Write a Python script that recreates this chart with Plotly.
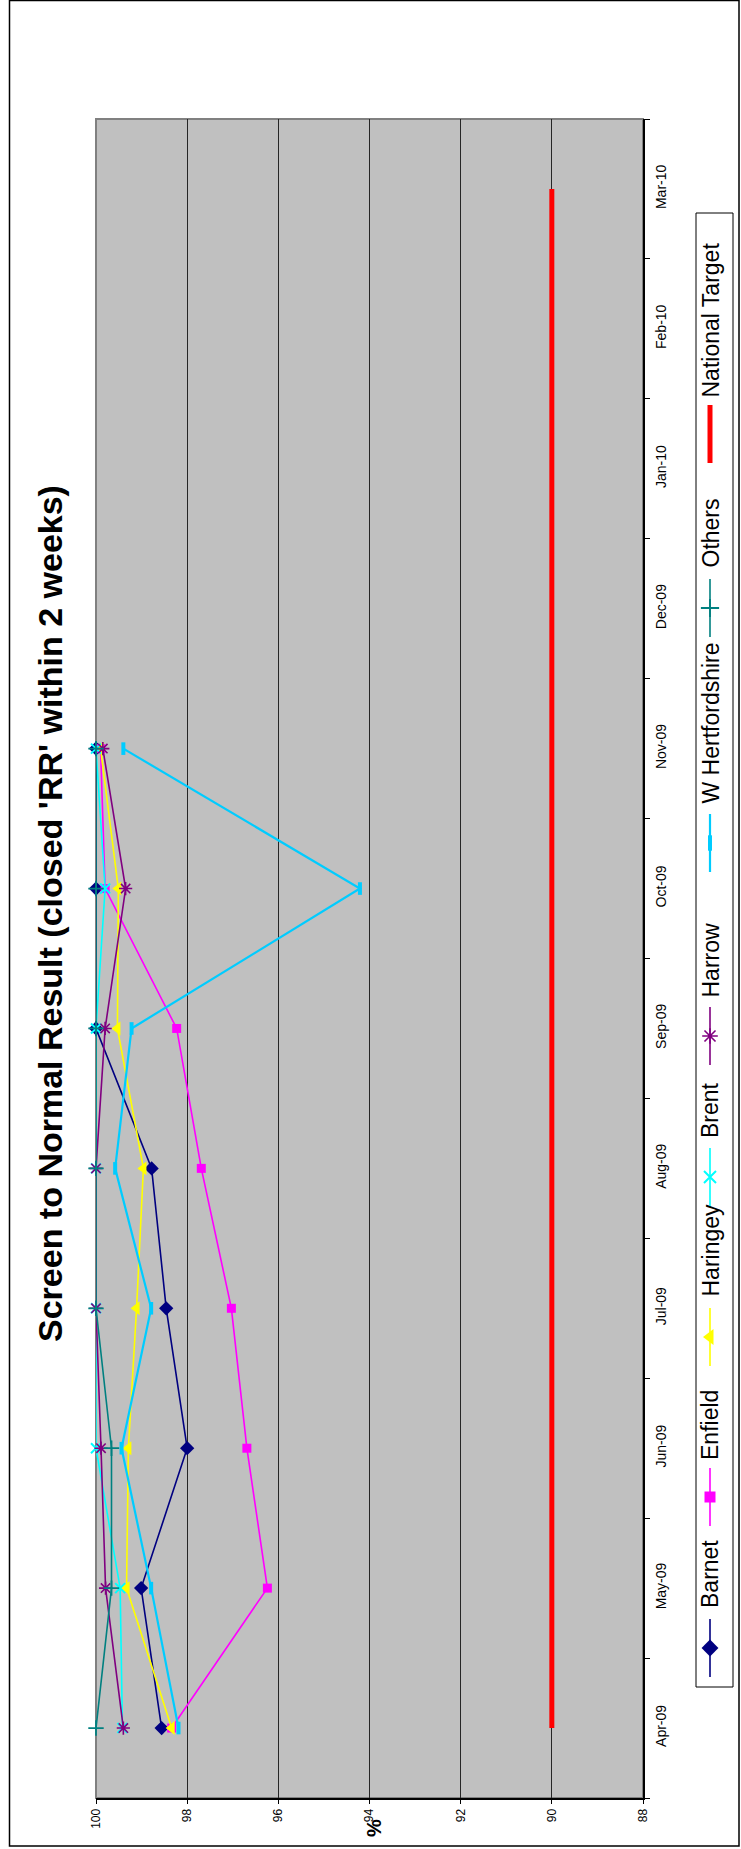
import plotly.graph_objects as go

# Reporting months (category axis, drawn vertically)
months = ["Apr-09", "May-09", "Jun-09", "Jul-09", "Aug-09", "Sep-09",
          "Oct-09", "Nov-09", "Dec-09", "Jan-10", "Feb-10", "Mar-10"]

# % of screen-to-normal results closed 'RR' within 2 weeks, Apr-09 .. Nov-09
barnet = [98.56, 99.01, 98.0, 98.46, 98.78, 100.0, 100.0, 100.0]
enfield = [98.34, 96.24, 96.69, 97.03, 97.69, 98.23, 99.8, 99.9]
haringey = [98.34, 99.33, 99.29, 99.11, 98.96, 99.53, 99.51, 99.9]
brent = [99.42, 99.47, 100.0, 100.0, 100.0, 100.0, 99.8, 100.0]
harrow = [99.4, 99.79, 99.89, 100.0, 100.0, 99.8, 99.35, 99.85]
w_herts = [98.19, 98.79, 99.44, 98.79, 99.58, 99.22, 94.21, 99.4]
others = [100.0, 99.66, 99.66, 100.0, 100.0, 100.0, 100.0, 100.0]
national_target = [90] * 12

series_names = ["Barnet", "Enfield", "Haringey", "Brent", "Harrow",
                "W Hertfordshire", "Others", "National Target"]

W, H = 741, 1849
FONT = "Liberation Sans, Arial, sans-serif"

# plot area in pixels
PX0, PX1, PY0, PY1 = 96, 643, 119, 1798

styles = {
    "Barnet": dict(color="#000080", symbol="diamond", size=11, lw=1.6, mlw=0),
    "Enfield": dict(color="#FF00FF", symbol="square", size=9, lw=1.6, mlw=0),
    "Haringey": dict(color="#FFFF00", symbol="triangle-left", size=12, lw=1.6, mlw=0),
    "Brent": dict(color="#00FFFF", symbol="x-thin-open", size=10, lw=1.6, mlw=2),
    "Harrow": dict(color="#800080", symbol="asterisk-open", size=11, lw=1.6, mlw=1.6),
    "W Hertfordshire": dict(color="#00CCFF", symbol="line-ns-open", size=9, lw=2.2, mlw=4),
    "Others": dict(color="#008080", symbol="cross-thin-open", size=11, lw=1.6, mlw=1.8),
    "National Target": dict(color="#FF0000", symbol="circle", size=0, lw=5, mlw=0),
}

data = {
    "Barnet": barnet, "Enfield": enfield, "Haringey": haringey, "Brent": brent,
    "Harrow": harrow, "W Hertfordshire": w_herts, "Others": others,
    "National Target": national_target,
}

fig = go.Figure()

for name in series_names:
    st = styles[name]
    vals = data[name]
    fig.add_trace(go.Scatter(
        x=vals, y=months[:len(vals)],
        mode="lines" if name == "National Target" else "lines+markers",
        name=name, showlegend=False, cliponaxis=False,
        line=dict(color=st["color"], width=st["lw"]),
        marker=dict(symbol=st["symbol"], size=st["size"], color=st["color"],
                    line=dict(color=st["color"], width=st["mlw"])),
        xaxis="x", yaxis="y",
    ))

# hand-built rotated legend, laid out on a pixel-coordinate overlay axis
LEG_X = 710
legend_rows = {  # marker centre y, text start y
    "Barnet": (1648, 1610),
    "Enfield": (1497, 1462),
    "Haringey": (1337, 1299),
    "Brent": (1177, 1140),
    "Harrow": (1036, 1000),
    "W Hertfordshire": (843, 806),
    "Others": (608, 570),
    "National Target": (434, 400),
}
for name in series_names:
    st = styles[name]
    ym, _ = legend_rows[name]
    fig.add_trace(go.Scatter(
        x=[LEG_X, LEG_X], y=[ym + 29, ym - 29], mode="lines", showlegend=False,
        line=dict(color=st["color"], width=st["lw"]), xaxis="x2", yaxis="y2",
        hoverinfo="skip",
    ))
    if name != "National Target":
        fig.add_trace(go.Scatter(
            x=[LEG_X], y=[ym], mode="markers", showlegend=False,
            marker=dict(symbol=st["symbol"], size=st["size"] + 2, color=st["color"],
                        line=dict(color=st["color"], width=st["mlw"])),
            xaxis="x2", yaxis="y2", hoverinfo="skip",
        ))

annotations = []
for name in series_names:
    _, yt = legend_rows[name]
    annotations.append(dict(
        x=710, y=yt, xref="x2", yref="y2", text=name, showarrow=False,
        textangle=-90, xanchor="center", yanchor="bottom",
        font=dict(family=FONT, size=23, color="black"),
    ))

annotations.append(dict(
    x=50, y=914, xref="x2", yref="y2",
    text="<b>Screen to Normal Result (closed 'RR' within 2 weeks)</b>",
    showarrow=False, textangle=-90, xanchor="center", yanchor="middle",
    font=dict(family=FONT, size=34, color="black"),
))
annotations.append(dict(
    x=374, y=1828, xref="x2", yref="y2", text="<b>%</b>", showarrow=False,
    textangle=-90, xanchor="center", yanchor="middle",
    font=dict(family=FONT, size=20, color="black"),
))

shapes = [
    # plot area fill and grey border
    dict(type="rect", xref="x domain", yref="y domain", x0=0, x1=1, y0=0, y1=1,
         fillcolor="#C0C0C0", line=dict(color="#808080", width=2), layer="below"),
    # legend box
    dict(type="rect", xref="x2", yref="y2", x0=696, x1=733, y0=213, y1=1687,
         fillcolor="white", line=dict(color="black", width=1), layer="below"),
    # outer chart frame
    dict(type="rect", xref="x2", yref="y2", x0=9.5, x1=739, y0=0.5, y1=1846,
         fillcolor="rgba(0,0,0,0)", line=dict(color="black", width=1.5), layer="above"),
]

fig.update_layout(
    width=W, height=H,
    margin=dict(l=0, r=0, t=0, b=0, pad=0),
    paper_bgcolor="white", plot_bgcolor="rgba(0,0,0,0)",
    font=dict(family=FONT, color="black"),
    showlegend=False,
    xaxis=dict(
        domain=[PX0 / W, PX1 / W], range=[100, 88], anchor="y",
        tick0=88, dtick=2, tickangle=-90, ticks="outside", ticklen=4,
        tickcolor="black", showline=True, linecolor="black", linewidth=2,
        showgrid=True, gridcolor="#262626", gridwidth=1, zeroline=False,
        tickfont=dict(family=FONT, size=12, color="black"), automargin=False,
    ),
    yaxis=dict(
        domain=[(H - PY1) / H, (H - PY0) / H], type="category",
        categoryorder="array", categoryarray=months, range=[-0.5, 11.5],
        anchor="x", side="right", tickangle=-90, tickson="boundaries",
        ticks="outside", ticklen=5, tickcolor="black", showline=True,
        linecolor="black", linewidth=1.5, showgrid=False, zeroline=False,
        ticklabelstandoff=4,
        tickfont=dict(family=FONT, size=14, color="black"), automargin=False,
    ),
    xaxis2=dict(domain=[0, 1], range=[0, W], anchor="y2", visible=False),
    yaxis2=dict(domain=[0, 1], range=[H, 0], anchor="x2", visible=False),
    annotations=annotations,
    shapes=shapes,
)

fig.write_html("out.html")
